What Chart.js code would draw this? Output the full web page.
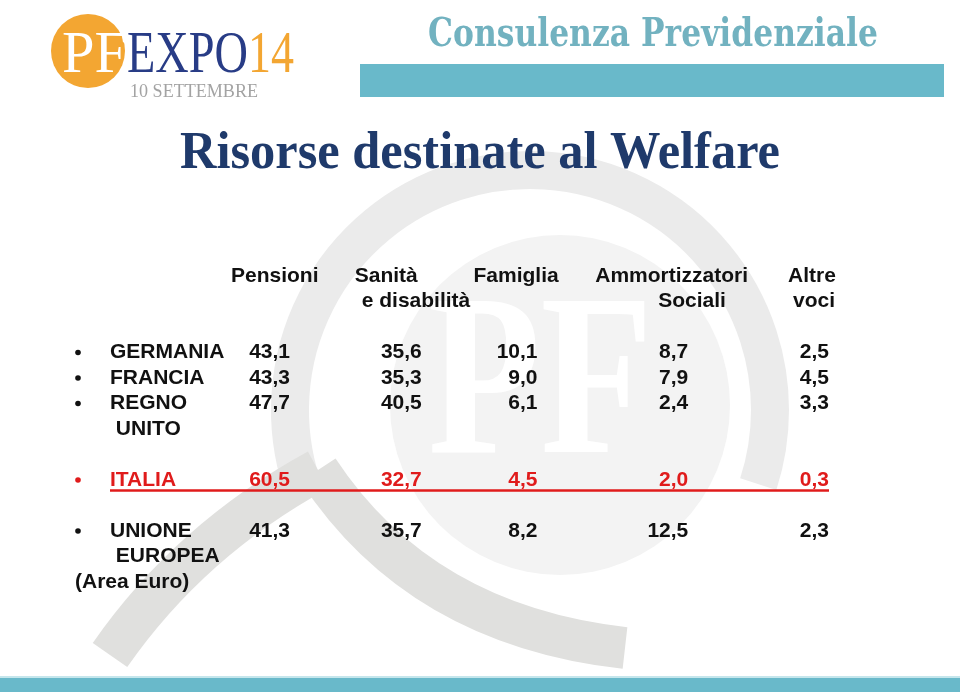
<!DOCTYPE html>
<html lang="it">
<head>
<meta charset="UTF-8">
<title>Risorse destinate al Welfare</title>
<script src="https://cdn.jsdelivr.net/npm/chart.js"></script>
<style>
    body {
        margin: 0;
        background: #ffffff;
    }
    #slide {
        display: block;
    }
</style>
</head>
<body>
<canvas id="slide" width="960" height="692"></canvas>
<script>
    // Table data (spesa sociale, % del totale)
    const columns = ['Pensioni', 'Sanità e disabilità', 'Famiglia', 'Ammortizzatori Sociali', 'Altre voci'];
    const headerLines = [['Pensioni'], ['Sanità', 'e disabilità'], ['Famiglia'], ['Ammortizzatori', 'Sociali'], ['Altre', 'voci']];
    const countries = ['GERMANIA', 'FRANCIA', 'REGNO UNITO', 'ITALIA', 'UNIONE EUROPEA'];
    const countryLines = [['GERMANIA'], ['FRANCIA'], ['REGNO', ' UNITO'], ['ITALIA'], ['UNIONE', ' EUROPEA', '(Area Euro)']];
    // row slots on the y axis, blank ones keep the gaps of the slide
    const rowSlots = ['GERMANIA', 'FRANCIA', 'REGNO UNITO', ' ', '  ', 'ITALIA', '   ', 'UNIONE EUROPEA'];
    const pensioni = [43.1, 43.3, 47.7, 60.5, 41.3];
    const sanita = [35.6, 35.3, 40.5, 32.7, 35.7];
    const famiglia = [10.1, 9.0, 6.1, 4.5, 8.2];
    const ammortizzatori = [8.7, 7.9, 2.4, 2.0, 12.5];
    const altreVoci = [2.5, 4.5, 3.3, 0.3, 2.3];
    const highlighted = 'ITALIA';

    const series = [pensioni, sanita, famiglia, ammortizzatori, altreVoci];

    // Look
    const NAVY = '#1f3a6b';
    const TEAL = '#69b9ca';
    const ORANGE = '#f3a632';
    const RED = '#e01b1b';
    const INK = '#111111';
    const tableFont = 'bold 21px "Liberation Sans", Arial, sans-serif';
    const valueNudge = [0, -3, -22, -6, 0];
    const headerDx = [[-59], [-70, -63], [-86], [-99, -36], [-41, -36]];

    function fitText(ctx, text, x, y, font, width, color) {
        ctx.save();
        ctx.font = font;
        ctx.fillStyle = color;
        ctx.textAlign = 'left';
        ctx.textBaseline = 'alphabetic';
        const w = ctx.measureText(text).width;
        ctx.translate(x, y);
        ctx.scale(width / w, 1);
        ctx.fillText(text, 0, 0);
        ctx.restore();
    }

    function fmt(v) {
        return v.toFixed(1).replace('.', ',');
    }

    // Background: watermark, logo, header band, title, footer band
    const slideBackground = {
        id: 'slideBackground',
        beforeDraw(chart) {
            const ctx = chart.ctx;
            ctx.save();
            ctx.fillStyle = '#ffffff';
            ctx.fillRect(0, 0, chart.width, chart.height);

            // faint PF watermark
            ctx.fillStyle = '#f3f3f3';
            ctx.beginPath();
            ctx.arc(560, 405, 170, 0, Math.PI * 2);
            ctx.fill();
            fitText(ctx, 'PF', 428, 452, 'bold 230px "Liberation Serif", serif', 225, '#ffffff');
            ctx.strokeStyle = '#ebebeb';
            ctx.lineWidth = 38;
            ctx.beginPath();
            ctx.arc(530, 410, 240, Math.PI * 0.9, Math.PI * 2.1);
            ctx.stroke();
            ctx.strokeStyle = '#e0e0de';
            ctx.lineWidth = 42;
            ctx.beginPath();
            ctx.moveTo(318, 470);
            ctx.quadraticCurveTo(190, 540, 110, 655);
            ctx.stroke();
            ctx.beginPath();
            ctx.moveTo(318, 470);
            ctx.quadraticCurveTo(420, 625, 625, 648);
            ctx.stroke();

            // PF EXPO 14 logo
            ctx.fillStyle = ORANGE;
            ctx.beginPath();
            ctx.arc(88, 51, 37, 0, Math.PI * 2);
            ctx.fill();
            fitText(ctx, 'PF', 62, 72, '59px "Liberation Serif", serif', 65, '#ffffff');
            fitText(ctx, 'EXPO', 127, 72, '59px "Liberation Serif", serif', 121, '#283c86');
            fitText(ctx, '14', 248, 72, '59px "Liberation Serif", serif', 46, ORANGE);
            fitText(ctx, '10 SETTEMBRE', 130, 97, '19px "Liberation Serif", serif', 128, '#a3a3a3');

            // top right header
            fitText(ctx, 'Consulenza Previdenziale', 428, 46, 'bold 40px "DejaVu Serif", serif', 450, '#72b2c0');
            ctx.fillStyle = TEAL;
            ctx.fillRect(360, 64, 584, 33);

            // slide title
            fitText(ctx, 'Risorse destinate al Welfare', 180, 168, 'bold 52px "Liberation Serif", serif', 600, NAVY);

            // footer band
            ctx.fillStyle = '#c5e6ec';
            ctx.fillRect(0, 676, chart.width, 2);
            ctx.fillStyle = TEAL;
            ctx.fillRect(0, 678, chart.width, 14);
            ctx.restore();
        }
    };

    // Table text drawn at the positions given by the scales
    const tableText = {
        id: 'tableText',
        afterDatasetsDraw(chart) {
            const ctx = chart.ctx;
            const xs = chart.scales.x;
            const ys = chart.scales.y;
            const step = ys.getPixelForValue(1) - ys.getPixelForValue(0);
            ctx.save();
            ctx.font = tableFont;
            ctx.textBaseline = 'middle';

            // column headers
            ctx.fillStyle = INK;
            ctx.textAlign = 'left';
            const headTop = chart.chartArea.top - 3 * step;
            headerLines.forEach((lines, j) => {
                const cx = xs.getPixelForValue(j);
                lines.forEach((line, k) => {
                    ctx.fillText(line, cx + headerDx[j][k], headTop + k * step);
                });
            });

            // row labels with bullets
            countries.forEach((c, i) => {
                const y = ys.getPixelForValue(rowSlots.indexOf(c));
                const color = c === highlighted ? RED : INK;
                ctx.fillStyle = color;
                ctx.beginPath();
                ctx.arc(78, y, 2.8, 0, Math.PI * 2);
                ctx.fill();
                ctx.textAlign = 'left';
                countryLines[i].forEach((line, k) => {
                    const lx = line.startsWith('(') ? 75 : 110;
                    ctx.fillText(line, lx, y + k * step);
                });
            });

            // values
            ctx.textAlign = 'right';
            series.forEach((values, j) => {
                const meta = chart.getDatasetMeta(j);
                meta.data.forEach((pt, i) => {
                    ctx.fillStyle = countries[i] === highlighted ? RED : INK;
                    ctx.fillText(fmt(values[i]), pt.x + valueNudge[j], pt.y);
                });
            });

            // underline of the highlighted row
            const hy = ys.getPixelForValue(rowSlots.indexOf(highlighted));
            const lastX = xs.getPixelForValue(columns.length - 1) + valueNudge[columns.length - 1];
            ctx.strokeStyle = RED;
            ctx.lineWidth = 2.3;
            ctx.beginPath();
            ctx.moveTo(110, hy + 10.5);
            ctx.lineTo(lastX, hy + 10.5);
            ctx.stroke();
            ctx.restore();
        }
    };

    const datasets = series.map((values, j) => ({
        label: columns[j],
        data: countries.map((c, i) => ({ x: columns[j], y: c, v: values[i] })),
        pointRadius: 0,
        pointHoverRadius: 0,
        pointHitRadius: 0
    }));

    new Chart(document.getElementById('slide'), {
        type: 'scatter',
        data: { datasets: datasets },
        options: {
            responsive: false,
            devicePixelRatio: 1,
            animation: false,
            layout: { padding: { left: 290, right: 131, top: 352.5, bottom: 161 } },
            plugins: {
                legend: { display: false },
                tooltip: { enabled: false },
                title: { display: false }
            },
            scales: {
                x: { type: 'category', labels: columns, offset: false, display: false },
                y: { type: 'category', labels: rowSlots, offset: false, display: false }
            }
        },
        plugins: [slideBackground, tableText]
    });
</script>
</body>
</html>
